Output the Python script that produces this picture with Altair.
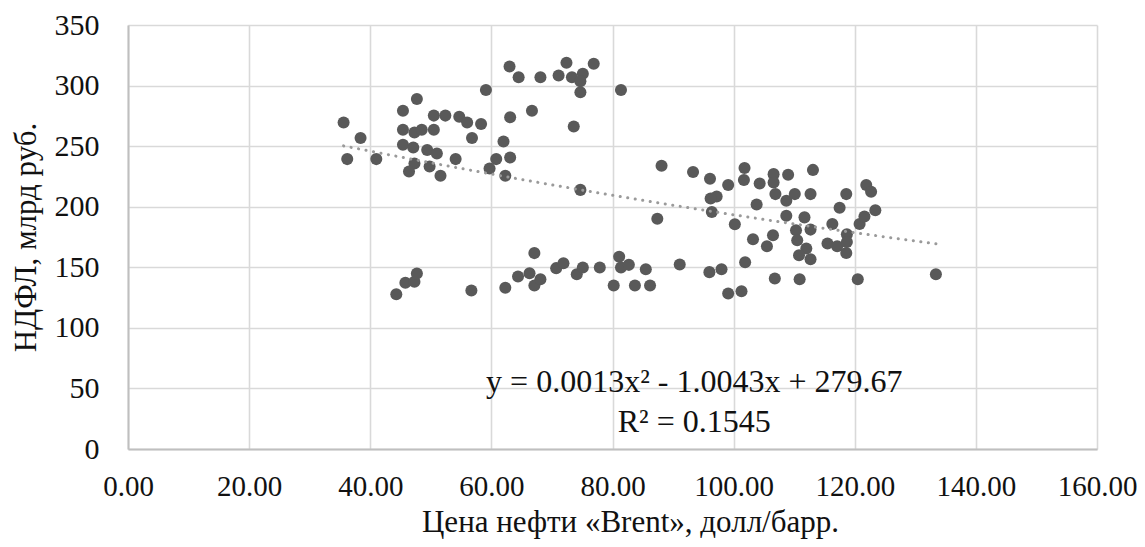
import altair as alt
import pandas as pd

brent = [
    35.6, 38.4, 36.2, 41.0, 45.4, 47.7, 45.4, 47.3, 48.5, 50.5,
    50.5, 52.4, 54.7, 56.0, 58.3, 56.8, 59.1, 45.4, 47.1, 49.4,
    51.0, 54.1, 47.3, 46.4, 49.8, 51.6, 62.0, 63.1, 66.7, 60.8,
    63.1, 59.7, 62.3, 63.0, 64.5, 68.1, 71.1, 72.4, 73.3, 75.1,
    74.7, 74.7, 76.9, 81.4, 73.6, 74.7,
    88.1, 87.4, 93.3, 96.1, 97.2, 96.2, 96.4, 99.1, 101.8, 101.7,
    100.2, 104.3, 103.8, 106.6, 106.6, 109.0, 113.1, 106.9, 108.7, 110.1,
    112.7, 108.7, 111.7, 103.2, 106.5, 105.5, 110.3, 110.5, 112.7, 112.0,
    110.8, 112.7, 116.3, 117.5, 118.6, 115.5, 117.1, 118.7, 118.7, 118.6,
    120.8, 121.6, 123.4, 121.9, 122.7, 133.4,
    91.1, 96.0, 98.0, 101.9, 99.1, 101.3, 106.8, 110.9, 120.5,
    44.3, 45.8, 47.3, 47.7, 56.7, 62.3, 64.4, 66.3, 67.1, 67.1,
    68.1, 70.7, 71.9, 74.1, 75.1, 77.9, 80.2, 81.1, 81.4, 82.7,
    83.7, 85.5, 86.2,
]
ndfl = [
    269.6, 256.7, 239.3, 239.3, 279.3, 289.0, 263.6, 261.3, 263.6, 263.6,
    275.2, 275.2, 274.3, 269.6, 268.3, 256.7, 296.4, 251.2, 248.9, 246.8,
    244.0, 239.3, 235.7, 229.1, 233.2, 225.5, 253.9, 273.8, 279.3, 239.3,
    240.6, 231.5, 225.5, 315.7, 306.9, 306.9, 308.3, 318.8, 306.9, 309.7,
    303.6, 294.5, 318.0, 296.4, 266.3, 213.9,
    233.8, 190.1, 228.6, 223.1, 208.4, 206.8, 195.7, 218.0, 231.9, 222.1,
    185.5, 219.1, 201.8, 226.9, 220.0, 226.3, 230.4, 210.4, 204.9, 210.4,
    210.4, 192.6, 191.2, 173.2, 176.5, 167.4, 180.6, 172.4, 181.1, 165.5,
    160.0, 156.7, 185.8, 199.2, 210.4, 169.6, 167.4, 177.3, 170.9, 161.8,
    185.8, 191.9, 197.0, 218.0, 212.3, 144.2,
    152.3, 146.0, 148.4, 154.2, 128.4, 130.3, 140.7, 140.1, 140.1,
    127.8, 137.2, 138.0, 144.9, 130.8, 133.1, 142.4, 145.1, 161.7, 134.9,
    140.1, 149.3, 153.4, 144.3, 149.8, 149.8, 134.9, 158.7, 149.8, 152.0,
    134.9, 148.4, 134.9,
]

x_ticks = [0, 20, 40, 60, 80, 100, 120, 140, 160]
y_ticks = [0, 50, 100, 150, 200, 250, 300, 350]

eq_text = ["y = 0.0013x² - 1.0043x + 279.67", "R² = 0.1545"]
eq_x = [93.5, 93.5]
eq_y = [47.3, 14.3]

FONT = "Liberation Serif"

df = pd.DataFrame({"brent": brent, "ndfl": ndfl})
eq_df = pd.DataFrame({"x": eq_x, "y": eq_y, "t": eq_text})

x_enc = alt.X(
    "brent:Q",
    scale=alt.Scale(domain=[0, 160], nice=False, zero=False),
    axis=alt.Axis(
        values=x_ticks, format=".2f", title="Цена нефти «Brent», долл/барр.",
        labelFontSize=29, labelFont=FONT, labelColor="#111111",
        labelFlush=False, labelOverlap=False, labelBound=False,
        labelBaseline="alphabetic", labelPadding=46,
        ticks=False, tickSize=0,
        grid=True, gridColor="#d9d9d9", gridWidth=1.6,
        domain=True, domainColor="#bfbfbf", domainWidth=2,
        titleFont=FONT, titleFontSize=31, titleFontWeight="normal", titleColor="#111111",
        titleX=502, titleY=82, titleBaseline="alphabetic", titleAlign="center",
    ),
)
y_enc = alt.Y(
    "ndfl:Q",
    scale=alt.Scale(domain=[0, 350], nice=False, zero=False),
    axis=alt.Axis(
        values=y_ticks, format="d", title="НДФЛ, млрд руб.",
        labelFontSize=30, labelFont=FONT, labelColor="#111111",
        labelFlush=False, labelOverlap=False, labelBound=False,
        labelPadding=29,
        ticks=False, tickSize=0,
        grid=True, gridColor="#d9d9d9", gridWidth=1.6,
        domain=True, domainColor="#bfbfbf", domainWidth=2,
        titleFont=FONT, titleFontSize=31, titleFontWeight="normal", titleColor="#111111",
        titleAngle=270, titleX=-93, titleY=212, titleBaseline="alphabetic", titleAlign="center",
    ),
)

points = alt.Chart(df).mark_circle(size=145, color="#595959", opacity=1).encode(x=x_enc, y=y_enc)

trend = alt.Chart(df).transform_regression(
    "brent", "ndfl", method="poly", order=2
).mark_line(
    color="#9a9a9a", strokeWidth=3, strokeDash=[0.1, 7.5], strokeCap="round"
).encode(x="brent:Q", y="ndfl:Q")

eq = alt.Chart(eq_df).mark_text(
    align="center", baseline="alphabetic", font=FONT, fontSize=32, color="#111111"
).encode(x="x:Q", y="y:Q", text="t:N")

chart = alt.layer(points, trend, eq).properties(
    width=969, height=424,
    autosize=alt.AutoSizeParams(type="none"),
    padding={"left": 120, "top": 17, "right": 40, "bottom": 90},
    background="white",
).configure_view(stroke=None)

chart.save("out.html", embed_options={"renderer": "svg", "actions": False})
